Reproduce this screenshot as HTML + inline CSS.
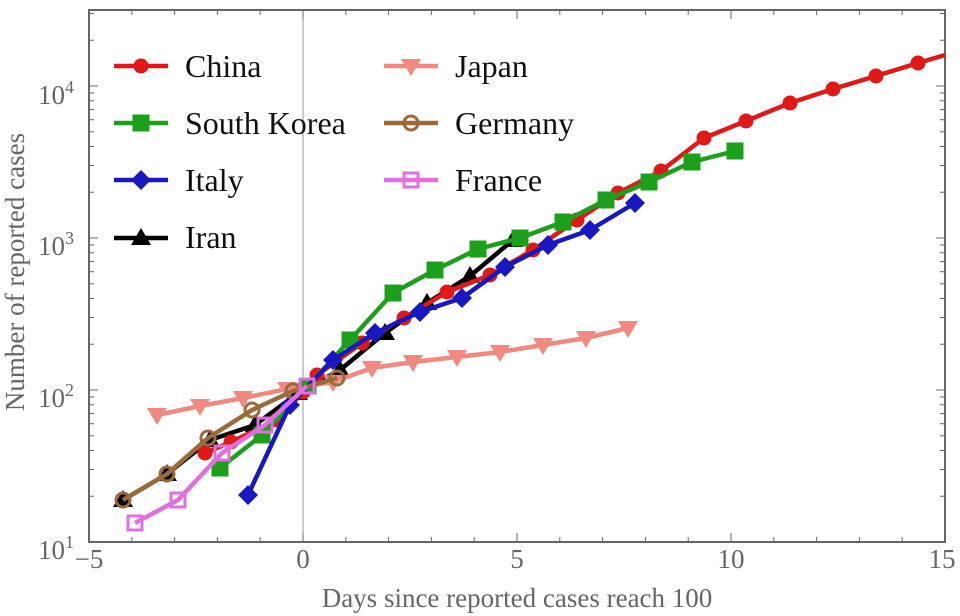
<!DOCTYPE html>
<html><head><meta charset="utf-8"><style>
body{margin:0;background:#fff;}
svg{display:block;font-family:"Liberation Serif",serif;}
</style></head><body>
<svg id="s" width="960" height="616" viewBox="0 0 960 616" xmlns="http://www.w3.org/2000/svg">
<rect x="89" y="10" width="856" height="532" fill="none" stroke="#666" stroke-width="2"/>
<line x1="303" y1="10" x2="303" y2="542" stroke="#999" stroke-width="1"/>
<g id="ticks" stroke="#666" stroke-width="1"></g>
<g fill="#666" font-size="27">
<text x="38" y="104">10<tspan dy="-11" font-size="18">4</tspan></text>
<text x="38" y="255">10<tspan dy="-11" font-size="18">3</tspan></text>
<text x="38" y="407">10<tspan dy="-11" font-size="18">2</tspan></text>
<text x="38" y="559">10<tspan dy="-11" font-size="18">1</tspan></text>
<g text-anchor="middle">
<text x="89" y="568">−5</text><text x="303" y="568">0</text><text x="517" y="568">5</text><text x="731" y="568">10</text><text x="942" y="568">15</text>
<text x="517" y="607">Days since reported cases reach 100</text>
<text transform="translate(24,272) rotate(-90)">Number of reported cases</text>
</g></g>
<g id="series"></g>
<g font-size="32" fill="#111">
<text x="185" y="77">China</text><text x="185" y="134">South Korea</text><text x="185" y="191">Italy</text><text x="185" y="248">Iran</text>
<text x="455" y="77">Japan</text><text x="455" y="134">Germany</text><text x="455" y="191">France</text>
</g>
</svg>
<script>
const NS="http://www.w3.org/2000/svg";
const S=document.getElementById('series'),T=document.getElementById('ticks');
function el(t,a,p){const e=document.createElementNS(NS,t);for(const k in a)e.setAttribute(k,a[k]);(p||S).appendChild(e);return e;}
for(let x=-5;x<=15;x++){const px=303+x*42.8;const L=x%5==0?9:5;el('line',{x1:px,y1:542,x2:px,y2:542-L},T);el('line',{x1:px,y1:10,x2:px,y2:10+L},T);}
for(let d=1;d<=4;d++){for(let m=1;m<=9;m++){const py=542-152*((d-1)+Math.log10(m));if(py<10)continue;const L=m==1?9:5;el('line',{x1:89,y1:py,x2:89+L,y2:py},T);el('line',{x1:945,y1:py,x2:945-L,y2:py},T);}}
function mk(type,x,y,c){
 if(type=='c')el('circle',{cx:x,cy:y,r:7.5,fill:c});
 else if(type=='s')el('rect',{x:x-8.5,y:y-8.5,width:17,height:17,fill:c});
 else if(type=='d')el('polygon',{points:`${x},${y-10} ${x+10},${y} ${x},${y+10} ${x-10},${y}`,fill:c});
 else if(type=='t')el('polygon',{points:`${x},${y-10} ${x+10},${y+7} ${x-10},${y+7}`,fill:c});
 else if(type=='v')el('polygon',{points:`${x},${y+10} ${x+10},${y-7} ${x-10},${y-7}`,fill:c});
 else if(type=='o')el('circle',{cx:x,cy:y,r:7,fill:'none',stroke:c,'stroke-width':3});
 else if(type=='q')el('rect',{x:x-7,y:y-7,width:14,height:14,fill:'none',stroke:c,'stroke-width':3});
}
function ser(pts,c,type,lx,ly,end){
 let d=pts.map(p=>p.join(',')).join(' ');if(end)d+=' '+end.join(',');
 el('polyline',{points:d,fill:'none',stroke:c,'stroke-width':4.5,'stroke-linejoin':'round'});
 pts.forEach(p=>mk(type,p[0],p[1],c));
 el('line',{x1:lx-27,y1:ly,x2:lx+27,y2:ly,stroke:c,'stroke-width':4.5});mk(type,lx,ly,c);
}
ser([[123,500],[167,474],[210,440],[255,425],[298,393],[340,370],[385,333],[427,303],[470,276],[513,240]],'#000','t',141,238);
ser([[157,415],[200,406],[243,398],[287,389],[333,382],[372,368],[413,362],[457,357],[500,352],[543,345],[586,338],[628,328]],'#f08a80','v',411,66);
ser([[205,453],[231,442],[277,420],[303,392],[317,375],[362,343],[404,318],[447,292],[490,275],[533,250],[577,220],[618,193],[661,171],[704,138],[746,121],[790,103],[833,89],[876,76],[918,63]],'#e01818','c',141,66,[945,55]);
ser([[220,468],[262,435],[308,386],[350,340],[393,293],[435,270],[478,249],[520,238],[563,222],[606,200],[649,182],[692,162],[735,151]],'#1ca01c','s',141,123);
ser([[248,495],[290,405],[333,360],[375,333],[420,312],[462,298],[505,267],[548,245],[590,230],[635,203]],'#1818c0','d',141,180);
ser([[123,500],[167,474],[208,438],[252,410],[293,391],[337,378]],'#9a6a3a','o',411,123);
ser([[135,523],[178,500],[222,453],[265,425],[307,386]],'#e070e0','q',411,180);
</script>
</body></html>
